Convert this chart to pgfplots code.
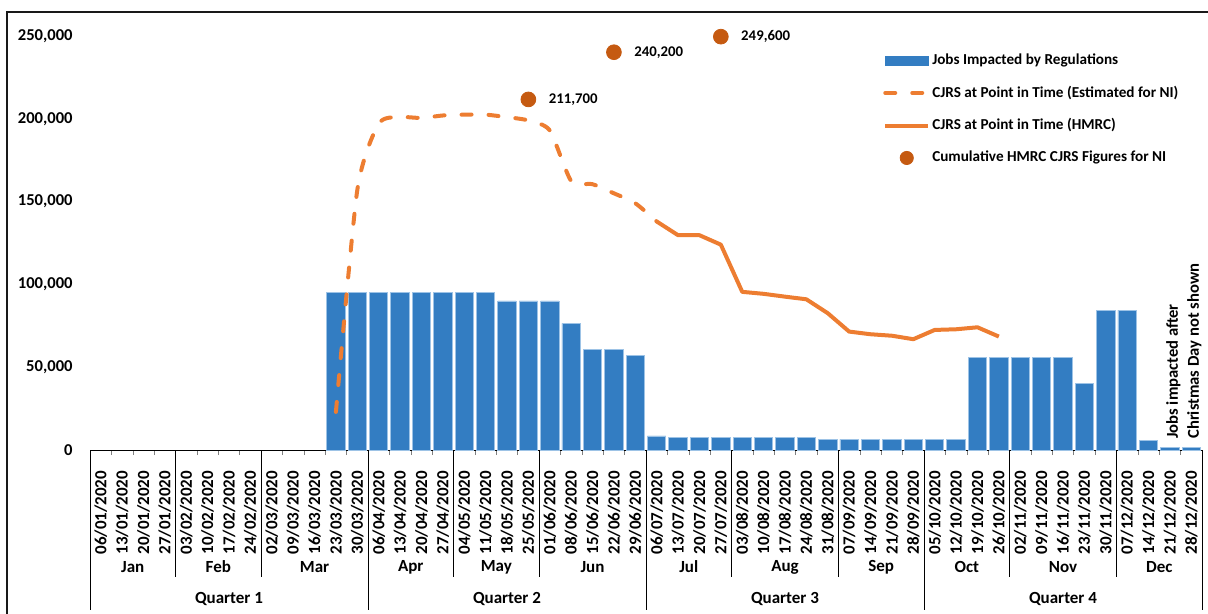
\documentclass[border=0pt]{standalone}
\usepackage{pgfplots}
\pgfplotsset{compat=1.18}
\usepackage{fontspec}
\setmainfont{Carlito}
\definecolor{barblue}{HTML}{337DC2}
\definecolor{baredge}{HTML}{9DC3E6}
\definecolor{lineor}{HTML}{ED7D31}
\definecolor{dotcol}{HTML}{C55A11}
\newcommand\lab{\fontsize{8.5bp}{10.5bp}\selectfont\bfseries}
\newcommand\leg{\fontsize{7.6bp}{9bp}\selectfont\bfseries}
\begin{document}
\begin{tikzpicture}
% plot area south west is at (0,0); 1px = 0.5bp
\path[use as bounding box] (-45bp,-82bp) rectangle (559bp,225bp);
\begin{axis}[
    scale only axis,
    width=556bp, height=207bp,
    xmin=-0.5, xmax=51.5,
    ymin=0, ymax=250000,
    clip=false,
    axis x line*=bottom,
    axis y line*=left,
    y axis line style={draw=none},
    ytick={0,50000,...,250000},
    ytick style={draw=none},
    scaled y ticks=false,
    /pgf/number format/.cd, fixed, 1000 sep={,}, assume math mode=true, /pgfplots/.cd,
    yticklabel style={font=\fontsize{8.3bp}{10bp}\selectfont\bfseries, inner sep=0pt, xshift=-4.25bp},
    xtick={0,...,51},
    major x tick style={draw=none},
    minor xtick={-0.5,0.5,...,51.5},
    minor tick length=2.5bp,
    tick align=outside,
    xticklabels={06/01/2020,13/01/2020,20/01/2020,27/01/2020,
        03/02/2020,10/02/2020,17/02/2020,24/02/2020,
        02/03/2020,09/03/2020,16/03/2020,23/03/2020,30/03/2020,
        06/04/2020,13/04/2020,20/04/2020,27/04/2020,
        04/05/2020,11/05/2020,18/05/2020,25/05/2020,
        01/06/2020,08/06/2020,15/06/2020,22/06/2020,29/06/2020,
        06/07/2020,13/07/2020,20/07/2020,27/07/2020,
        03/08/2020,10/08/2020,17/08/2020,24/08/2020,31/08/2020,
        07/09/2020,14/09/2020,21/09/2020,28/09/2020,
        05/10/2020,12/10/2020,19/10/2020,26/10/2020,
        02/11/2020,09/11/2020,16/11/2020,23/11/2020,30/11/2020,
        07/12/2020,14/12/2020,21/12/2020,28/12/2020},
    xticklabel style={font=\lab, inner sep=0pt, yshift=-6bp, rotate=90, anchor=east},
    legend style={at={(0.713,0.963)}, anchor=north west, draw=none, fill=none,
        font=\leg, inner sep=0pt, row sep=7.2bp, nodes={inner sep=1bp}},
    legend cell align=left,
]

% Jobs impacted by regulations (weeks before 23/03 are zero)
\addplot[ybar, bar width=9.2bp, fill=barblue, draw=baredge, line width=0.4bp,
    legend image code/.code={\fill[barblue] (0bp,-2.25bp) rectangle (21.5bp,2.25bp);}]
    coordinates {
    (11,95000)(12,95000)(13,95000)(14,95000)(15,95000)(16,95000)(17,95000)(18,95000)
    (19,90000)(20,90000)(21,90000)(22,76500)(23,60500)(24,60500)(25,57000)
    (26,8500)(27,7700)(28,7700)(29,7700)(30,7700)(31,7700)(32,7700)(33,7700)
    (34,6600)(35,6600)(36,6600)(37,6600)(38,6600)(39,6600)(40,6600)
    (41,56000)(42,56000)(43,56000)(44,56000)(45,56000)(46,40000)
    (47,84500)(48,84500)(49,5500)(50,1500)(51,1500)
    };
\addlegendentry{Jobs Impacted by Regulations}

% CJRS estimated for NI
\addplot[lineor, line width=2bp, line cap=round, dash pattern=on 5bp off 8.5bp, smooth, tension=0.4,
    legend image code/.code={\draw[lineor, line width=2bp, line cap=round, dash pattern=on 5bp off 8.5bp] (0bp,0bp) -- (21.5bp,0bp);}]
    coordinates {
    (11,23000)(12,157000)(13,197000)(14,201000)(15,200500)(16,202000)(17,202500)
    (18,202500)(19,201000)(20,199000)(21,193000)(22,162500)(23,160500)(24,155000)
    (25,149000)(26,138000)
    };
\addlegendentry{CJRS at Point in Time (Estimated for NI)}

% CJRS HMRC
\addplot[lineor, line width=2bp, line join=round,
    legend image code/.code={\draw[lineor, line width=2bp] (0bp,0bp) -- (21.5bp,0bp);}]
    coordinates {
    (26,138000)(27,129700)(28,129700)(29,124000)(30,95500)(31,94300)(32,92600)
    (33,91000)(34,82600)(35,71500)(36,69900)(37,69000)(38,66900)(39,72500)
    (40,72900)(41,74100)(42,68500)
    };
\addlegendentry{CJRS at Point in Time (HMRC)}

% cumulative HMRC figures
\addplot[only marks, mark=*, mark size=3.7bp, mark options={fill=dotcol, draw=dotcol},
    point meta=y, nodes near coords, nodes near coords align=horizontal,
    nodes near coords style={inner sep=0pt, xshift=10bp, font=\fontsize{7.4bp}{9bp}\selectfont\bfseries, text=black},
    legend image code/.code={\fill[dotcol] (10.75bp,0bp) circle (3.3bp);}]
    coordinates {(20,211700)(24,240200)(29,249600)};
\addlegendentry{Cumulative HMRC CJRS Figures for NI}

\node[font=\fontsize{8.3bp}{10.5bp}\selectfont\bfseries, rotate=90, anchor=west, align=left, inner sep=0pt]
    at (axis cs:50.65,6600) {Jobs impacted after\\Christmas Day not shown};
\end{axis}
% outer frame of the chart
\draw[line width=1.25bp, black!90] (-41.5bp,-90bp) -- (-41.5bp,219bp) -- (570bp,219bp);
% month and quarter separators (one category = 556/52 bp)
\foreach \b in {4,8,17,21,30,35,43,48}
    \draw[black, line width=0.5bp] ({\b*10.6923bp},0) -- ++(0,-63.5bp);
\foreach \b in {0,13,26,39,52}
    \draw[black, line width=0.5bp] ({\b*10.6923bp},0) -- ++(0,-80bp);
\foreach \m/\cc in {Jan/2,Feb/6,Mar/10.5,Apr/15,May/19,Jun/23.5,Jul/28,Aug/32.5,Sep/37,Oct/41,Nov/45.5,Dec/50}
    \node[font=\lab] at ({\cc*10.6923bp},-58.5bp) {\m};
\foreach \q/\cc in {1/6.5,2/19.5,3/32.5,4/45.5}
    \node[font=\lab] at ({\cc*10.6923bp},-74.5bp) {Quarter \q};
\end{tikzpicture}
\end{document}
